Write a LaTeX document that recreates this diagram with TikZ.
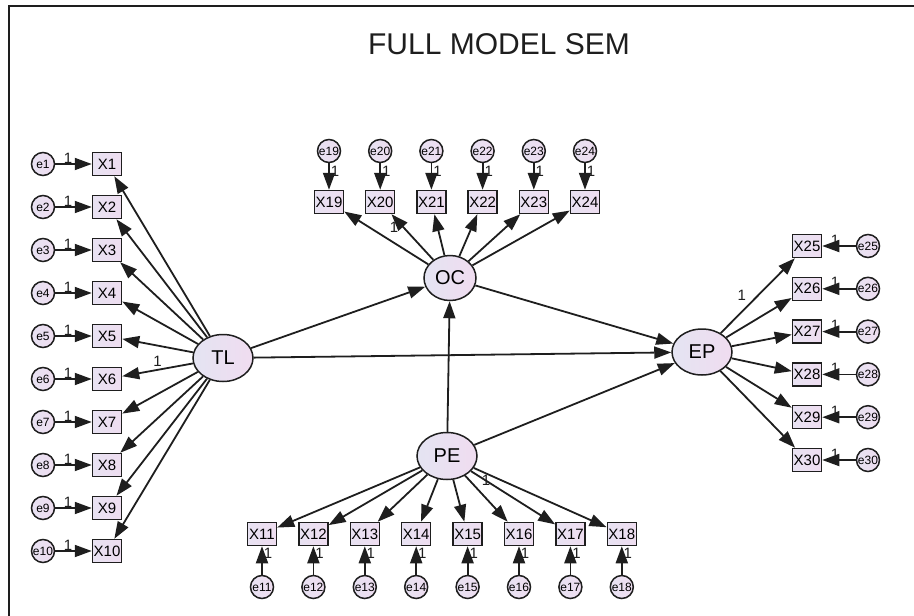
\documentclass[tikz,border=0pt]{standalone}
\usepackage{fontspec}
\setmainfont{Liberation Sans}
\usetikzlibrary{shapes.geometric,arrows.meta}
\definecolor{ink}{HTML}{1E1E1E}
\definecolor{latA}{HTML}{E4E4F2}
\definecolor{latB}{HTML}{F0DCF0}
\definecolor{obsA}{HTML}{E8E2F2}
\definecolor{obsB}{HTML}{EEDDF0}
\tikzset{
  lat/.style={ellipse, draw=ink, line width=1.5pt, left color=latA, right color=latB,
    minimum width=60, minimum height=47, inner sep=0pt, font=\fontsize{20}{20}\selectfont},
  obs/.style={rectangle, draw=ink, line width=1.5pt, left color=obsA, right color=obsB,
    minimum width=29, minimum height=23, inner sep=0pt, font=\fontsize{15}{15}\selectfont},
  err/.style={circle, draw=ink, line width=1.5pt, left color=obsA, right color=obsB,
    minimum size=23, inner sep=0pt, font=\fontsize{12}{12}\selectfont},
  arr/.style={draw=ink, line width=1.8pt, -{Triangle[length=17pt,width=12pt]}},
  one/.style={font=\fontsize{15}{15}\selectfont, inner sep=1pt, text=ink},
}
\begin{document}
\begin{tikzpicture}[x=1pt,y=-1pt]
\useasboundingbox (0,0) rectangle (914,616);
% frame
\draw[ink, line width=1.6pt] (9,616) -- (9,6) -- (914,6);
% title
\node[font=\fontsize{30}{30}\selectfont, text=ink] (title) at (499,44) {FULL MODEL SEM};

% latent variables
\node[lat] (TL) at (223,358) {TL};
\node[lat, minimum width=52, minimum height=45] (OC) at (450,278) {OC};
\node[lat] (PE) at (447,456) {PE};
\node[lat, minimum height=46] (EP) at (702,352) {EP};

% TL indicators (left column)
\foreach \i in {1,...,10} {
  \pgfmathsetmacro{\yy}{164+43*(\i-1)}
  \node[obs] (X\i) at (107,\yy) {X\i};
  \node[err] (e\i) at (43,\yy) {e\i};
  \draw[arr] (e\i) -- node[one, pos=0.35, above=-1pt] {1} (X\i);
  \ifnum\i=6
    \draw[arr] (TL) -- node[one, pos=0.5, above=1pt] {1} (X\i);
  \else
    \draw[arr] (TL) -- (X\i);
  \fi
}

% OC indicators (top row)
\foreach \i [count=\k from 0] in {19,...,24} {
  \pgfmathsetmacro{\xx}{329+51.2*\k}
  \node[obs] (X\i) at (\xx,202) {X\i};
  \node[err] (e\i) at (\xx,151) {e\i};
  \draw[arr] (e\i) -- node[one, pos=0.3, right=0pt] {1} (X\i);
  \ifnum\i=20
    \draw[arr] (OC) -- node[one, pos=0.72, left=3pt] {1} (X\i);
  \else
    \draw[arr] (OC) -- (X\i);
  \fi
}

% PE indicators (bottom row)
\foreach \i [count=\k from 0] in {11,...,18} {
  \pgfmathsetmacro{\xx}{262+51.4*\k}
  \node[obs] (X\i) at (\xx,534) {X\i};
  \node[err] (e\i) at (\xx,587) {e\i};
  \draw[arr] (e\i) -- node[one, pos=0.75, right=0pt] {1} (X\i);
  \ifnum\i=16
    \draw[arr] (PE) -- node[one, pos=0.3, anchor=south west, xshift=2pt, yshift=2pt] {1} (X\i);
  \else
    \draw[arr] (PE) -- (X\i);
  \fi
}

% EP indicators (right column)
\foreach \i [count=\k from 0] in {25,...,30} {
  \pgfmathsetmacro{\yy}{246+42.8*\k}
  \node[obs] (X\i) at (807,\yy) {X\i};
  \node[err] (e\i) at (868,\yy) {e\i};
  \draw[arr] (e\i) -- node[one, pos=0.62, above=-1pt] {1} (X\i);
  \ifnum\i=25
    \draw[arr] (EP) -- node[one, pos=0.5, left=10pt] {1} (X\i);
  \else
    \draw[arr] (EP) -- (X\i);
  \fi
}

% structural paths
\draw[arr] (TL) -- (OC);
\draw[arr] (TL) -- (EP);
\draw[arr] (OC) -- (EP);
\draw[arr] (PE) -- (OC);
\draw[arr] (PE) -- (EP);
\end{tikzpicture}
\end{document}
